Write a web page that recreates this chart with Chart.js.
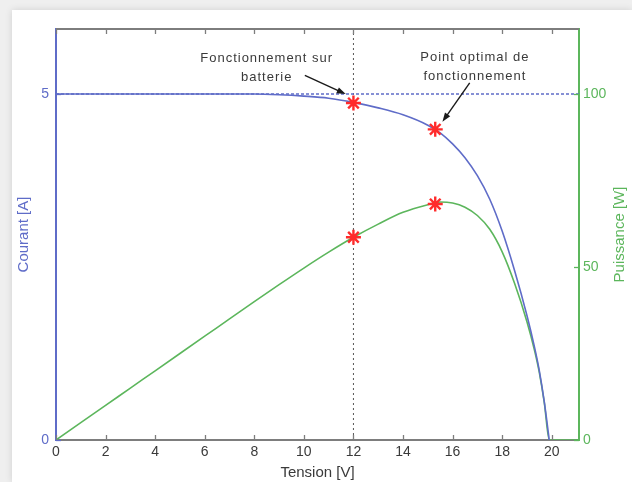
<!DOCTYPE html>
<html>
<head>
<meta charset="utf-8">
<script src="https://cdn.jsdelivr.net/npm/chart.js@4/dist/chart.umd.min.js"></script>
<style>
  html, body { margin: 0; padding: 0; }
  body { width: 632px; height: 482px; background: #efefef; position: relative; overflow: hidden; }
  .card { position: absolute; left: 12px; top: 10px; right: 0; bottom: 0; background: #fff; box-shadow: 0 0 7px rgba(0,0,0,0.13); }
  #chartBox { position: absolute; left: 0; top: 0; width: 632px; height: 482px; }
</style>
</head>
<body>
<div class="card"></div>
<div id="chartBox"><canvas id="ivChart" width="632" height="482"></canvas></div>
<script>
// I-V and P-V characteristic of the panel
const voltage = [0, 1, 2, 3, 4, 5, 6, 7, 8, 9, 10, 11, 12, 13, 14, 15, 15.5, 16, 16.5, 17, 17.5, 18, 18.5, 19, 19.3, 19.5, 19.7, 19.9, 20.5, 21.1];
const current = [5.00, 5.00, 5.00, 5.00, 5.00, 5.00, 5.00, 5.00, 5.00, 4.99, 4.97, 4.94, 4.88, 4.80, 4.70, 4.55, 4.44, 4.28, 4.08, 3.82, 3.48, 3.02, 2.45, 1.80, 1.35, 1.00, 0.55, 0, null, null];
const power = [0, 5.0, 10.0, 15.0, 20.0, 25.0, 30.0, 35.0, 40.0, 44.9, 49.7, 54.3, 58.6, 62.4, 65.8, 68.0, 68.8, 68.5, 67.3, 64.9, 60.9, 54.4, 45.3, 34.2, 26.1, 19.5, 10.8, 0, 0, 0];

// operating points: battery (12 V) and maximum power point
const markerVoltage = [12, 15.3];
const markerCurrent = [4.87, 4.49];
const markerPower = [58.6, 68.2];

const batteryVoltage = 12;
const nominalCurrent = 5;

const xTicks = [0, 2, 4, 6, 8, 10, 12, 14, 16, 18, 20];
const currentTicks = [0, 5];
const powerTicks = [0, 50, 100];

const voltageMax = 21.1;
const currentMax = 5.94;
const powerMax = 118.8;

const BLUE = '#5f6cc8';
const GREEN = '#5cb65c';
const AXIS_GRAY = '#7d7d7d';
const TEXT = '#3a3a3a';
const RED = '#ff2b2b';
const FAMILY = 'Liberation Sans, Arial, sans-serif';
const tickFont = { family: FAMILY, size: 14 };
const titleFont = { family: FAMILY, size: 15 };

// annotation text and arrows, in data units of the current axis
const notes = [
  { x: 8.5, y: 5.52, lines: ['Fonctionnement sur', 'batterie'], from: [10.04, 5.27], to: [11.69, 5.0] },
  { x: 16.9, y: 5.53, lines: ['Point optimal de', 'fonctionnement'], from: [16.69, 5.16], to: [15.59, 4.60] }
];

const pts = (xs, ys) => xs.map((v, i) => ({ x: v, y: ys[i] }));

function fixedTicks(values) {
  return scale => { scale.ticks = values.map(v => ({ value: v })); };
}

function arrow(ctx, x1, y1, x2, y2) {
  const ang = Math.atan2(y2 - y1, x2 - x1);
  const len = 9, half = 3.2;
  ctx.beginPath();
  ctx.moveTo(x1, y1);
  ctx.lineTo(x2 - Math.cos(ang) * len * 0.8, y2 - Math.sin(ang) * len * 0.8);
  ctx.stroke();
  ctx.beginPath();
  ctx.moveTo(x2, y2);
  ctx.lineTo(x2 - Math.cos(ang) * len - Math.sin(ang) * half, y2 - Math.sin(ang) * len + Math.cos(ang) * half);
  ctx.lineTo(x2 - Math.cos(ang) * len + Math.sin(ang) * half, y2 - Math.sin(ang) * len - Math.cos(ang) * half);
  ctx.closePath();
  ctx.fill();
}

// box frame with inward ticks, right axis title and annotations
const frame = {
  id: 'frame',
  afterDraw(chart) {
    const { ctx, chartArea: a, scales: { x, y, y2 } } = chart;
    ctx.save();

    ctx.strokeStyle = AXIS_GRAY;
    ctx.lineWidth = 2;
    ctx.beginPath();
    ctx.moveTo(a.left, a.top);
    ctx.lineTo(a.right, a.top);
    ctx.stroke();

    ctx.lineWidth = 1.3;
    xTicks.forEach(v => {
      const px = Math.round(x.getPixelForValue(v)) + 0.5;
      ctx.beginPath();
      ctx.moveTo(px, a.bottom); ctx.lineTo(px, a.bottom - 5);
      ctx.moveTo(px, a.top); ctx.lineTo(px, a.top + 5);
      ctx.stroke();
    });
    ctx.strokeStyle = BLUE;
    currentTicks.forEach(v => {
      const py = Math.round(y.getPixelForValue(v)) + 0.5;
      ctx.beginPath(); ctx.moveTo(a.left, py); ctx.lineTo(a.left + 5, py); ctx.stroke();
    });
    ctx.strokeStyle = GREEN;
    powerTicks.forEach(v => {
      const py = Math.round(y2.getPixelForValue(v)) + 0.5;
      ctx.beginPath(); ctx.moveTo(a.right, py); ctx.lineTo(a.right - 5, py); ctx.stroke();
    });

    // right axis title, reading upwards like the left one
    ctx.fillStyle = GREEN;
    ctx.font = titleFont.size + 'px ' + FAMILY;
    ctx.textAlign = 'center';
    ctx.textBaseline = 'middle';
    ctx.translate(620, (a.top + a.bottom) / 2);
    ctx.rotate(-Math.PI / 2);
    ctx.fillText('Puissance [W]', 0, 0);
    ctx.restore();

    ctx.save();
    ctx.fillStyle = TEXT;
    ctx.strokeStyle = '#1a1a1a';
    ctx.lineWidth = 1.4;
    ctx.font = '13px ' + FAMILY;
    ctx.letterSpacing = '1px';
    ctx.textAlign = 'center';
    ctx.textBaseline = 'middle';
    notes.forEach(n => {
      const cx = x.getPixelForValue(n.x), cy = y.getPixelForValue(n.y);
      n.lines.forEach((t, i) => ctx.fillText(t, cx, cy + i * 19));
      ctx.fillStyle = '#1a1a1a';
      arrow(ctx, x.getPixelForValue(n.from[0]), y.getPixelForValue(n.from[1]),
                 x.getPixelForValue(n.to[0]), y.getPixelForValue(n.to[1]));
      ctx.fillStyle = TEXT;
    });
    ctx.restore();
  }
};

new Chart(document.getElementById('ivChart'), {
  type: 'line',
  data: {
    datasets: [
      {
        label: 'MPP courant', yAxisID: 'y', order: 0,
        data: pts(markerVoltage, markerCurrent),
        showLine: false, pointStyle: 'star', pointRadius: 7.5,
        pointBorderColor: RED, pointBorderWidth: 2.4
      },
      {
        label: 'MPP puissance', yAxisID: 'y2', order: 0,
        data: pts(markerVoltage, markerPower),
        showLine: false, pointStyle: 'star', pointRadius: 7.5,
        pointBorderColor: RED, pointBorderWidth: 2.4
      },
      {
        label: 'Courant', yAxisID: 'y', order: 1,
        data: pts(voltage, current),
        borderColor: BLUE, borderWidth: 1.6, pointRadius: 0,
        cubicInterpolationMode: 'monotone', spanGaps: false
      },
      {
        label: 'Puissance', yAxisID: 'y2', order: 2,
        data: pts(voltage, power),
        borderColor: GREEN, borderWidth: 1.6, pointRadius: 0,
        cubicInterpolationMode: 'monotone'
      },
      {
        label: 'Isc', yAxisID: 'y', order: 3,
        data: [{ x: 0, y: nominalCurrent }, { x: voltageMax, y: nominalCurrent }],
        borderColor: BLUE, borderWidth: 1.6, borderDash: [3, 2], pointRadius: 0
      },
      {
        label: 'Batterie', yAxisID: 'y', order: 3,
        data: [{ x: batteryVoltage, y: 0 }, { x: batteryVoltage, y: currentMax }],
        borderColor: '#555', borderWidth: 1, borderDash: [2, 3], pointRadius: 0
      }
    ]
  },
  options: {
    responsive: false,
    animation: false,
    devicePixelRatio: 1,
    layout: { padding: { left: 12, top: 29, right: 0, bottom: 0 } },
    plugins: { legend: { display: false }, tooltip: { enabled: false } },
    scales: {
      x: {
        type: 'linear', min: 0, max: voltageMax,
        afterBuildTicks: fixedTicks(xTicks),
        afterFit: s => { s.height = 42; },
        grid: { display: false, drawTicks: false },
        border: { color: AXIS_GRAY, width: 2 },
        ticks: { color: TEXT, font: tickFont, padding: 4, maxRotation: 0 },
        title: { display: true, text: 'Tension [V]', color: TEXT, font: titleFont, padding: { top: 0, bottom: 0 } }
      },
      y: {
        position: 'left', min: 0, max: currentMax,
        afterBuildTicks: fixedTicks(currentTicks),
        afterFit: s => { s.width = 44; },
        grid: { display: false, drawTicks: false },
        border: { color: BLUE, width: 2 },
        ticks: { color: BLUE, font: tickFont, padding: 7 },
        title: { display: true, text: 'Courant [A]', color: BLUE, font: titleFont, padding: { top: 3 } }
      },
      y2: {
        position: 'right', min: 0, max: powerMax,
        afterBuildTicks: fixedTicks(powerTicks),
        afterFit: s => { s.width = 53; },
        grid: { display: false, drawTicks: false },
        border: { color: GREEN, width: 2 },
        ticks: { color: GREEN, font: tickFont, padding: 4 }
      }
    }
  },
  plugins: [frame]
});
</script>
</body>
</html>
